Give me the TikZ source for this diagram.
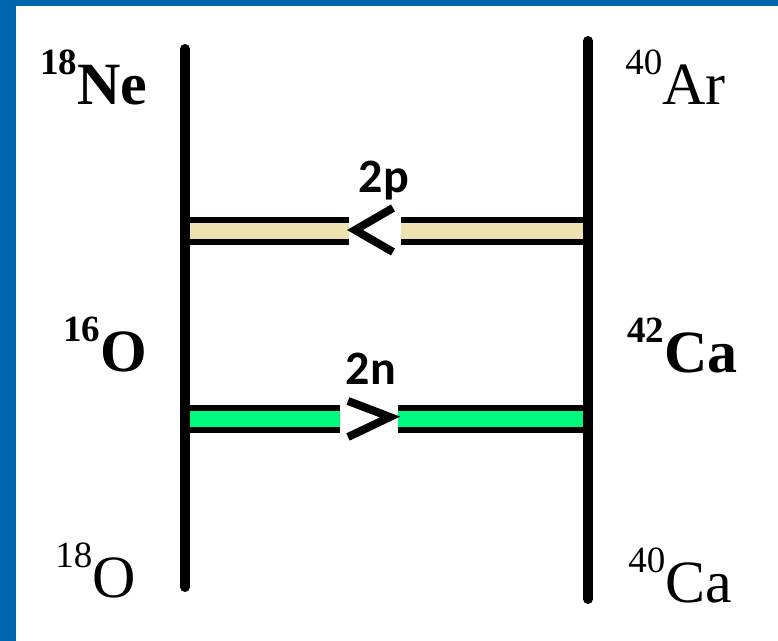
\documentclass[tikz,border=0pt]{standalone}
\usepackage{fontspec}
\setmainfont{Liberation Serif}
\newfontfamily\barfont{Carlito}
\definecolor{frameblue}{RGB}{0,103,172}
\definecolor{protonfill}{RGB}{238,226,176}
\definecolor{neutronfill}{RGB}{0,250,128}
\newcommand{\nucl}[2]{\raisebox{15pt}{\fontsize{18.5}{18.5}\selectfont #1}#2}

\begin{document}
\begin{tikzpicture}[x=0.5pt, y=-0.5pt,
    nlabel/.style={anchor=base west, inner sep=0pt, font=\fontsize{30}{30}\selectfont},
    blabel/.style={anchor=base, inner sep=0pt, font=\barfont\bfseries\fontsize{24}{24}\selectfont},
    level/.style={line width=5pt, line cap=round},
    barline/.style={line width=14pt},
    gapbox/.style={fill=white, inner sep=0pt, minimum width=26pt, minimum height=17pt},
    chevron/.style={line width=4pt}]
  \useasboundingbox (0,0) rectangle (778,641);

  % Frame on top and left
  \fill[frameblue] (0,0) rectangle (778,6);
  \fill[frameblue] (0,0) rectangle (16,641);

  % Level ends
  \coordinate (lt) at (185,49);
  \coordinate (lb) at (185,587);
  \coordinate (rt) at (588,41);
  \coordinate (rb) at (588,599);

  % Transfer bars
  \coordinate (pl) at (185,231);
  \coordinate (pr) at (588,231);
  \coordinate (nl) at (185,419);
  \coordinate (nr) at (588,419);
  \draw[barline] (pl) -- (pr);
  \draw[barline, line width=8pt, protonfill] (pl) -- (pr);
  \draw[barline] (nl) -- (nr);
  \draw[barline, line width=8pt, neutronfill] (nl) -- (nr);

  % Gaps with direction marks
  \node[gapbox] (pgap) at (375,231) {};
  \node[gapbox, minimum width=29pt] (ngap) at (369,419) {};
  \draw[chevron] (393,208) -- (355,230) -- (393,252);
  \draw[chevron] (348,401) -- (390,417) -- (348,437);

  \node[blabel] (ptext) at (384,193) {2p};
  \node[blabel] (ntext) at (371,385) {2n};

  % Vertical lines
  \draw[level] (lt) -- (lb);
  \draw[level] (rt) -- (rb);

  % Nuclei
  \node[nlabel, font=\bfseries\fontsize{30}{30}\selectfont] (ne18) at (40,105) {\nucl{18}{Ne}};
  \node[nlabel] (ar40) at (625,105) {\nucl{40}{Ar}};
  \node[nlabel, font=\bfseries\fontsize{30}{30}\selectfont] (o16) at (63,372) {\nucl{16}{O}};
  \node[nlabel, font=\bfseries\fontsize{30}{30}\selectfont] (ca42) at (627,373) {\nucl{42}{Ca}};
  \node[nlabel] (o18) at (55,598) {\nucl{18}{O}};
  \node[nlabel] (ca40) at (628,603) {\nucl{40}{Ca}};
\end{tikzpicture}
\end{document}
